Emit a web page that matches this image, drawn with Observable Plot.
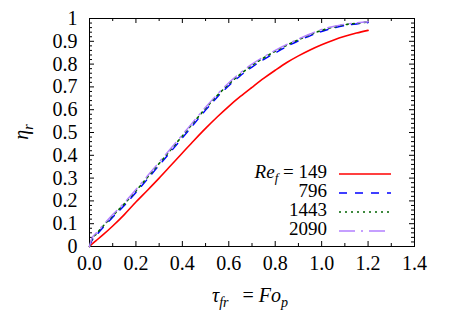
<!DOCTYPE html>
<html>
<head>
<meta charset="utf-8">
<script src="https://cdn.jsdelivr.net/npm/d3@7"></script>
<script src="https://cdn.jsdelivr.net/npm/@observablehq/plot@0.6"></script>
<style>
  html, body { margin: 0; padding: 0; background: #fff; }
  #chart svg { display: block; }
</style>
</head>
<body>
<div id="chart"></div>
<script>
// Fourier number (x) values
const fo = [0, 0.01, 0.03, 0.06, 0.1, 0.15, 0.2, 0.25, 0.3, 0.35, 0.4, 0.45, 0.5, 0.55, 0.6, 0.65, 0.7, 0.75, 0.8, 0.85, 0.9, 0.95, 1.0, 1.05, 1.1, 1.15, 1.2];
// efficiency eta_r per Re_f
const re149  = [0, 0.01, 0.027, 0.053, 0.09, 0.14, 0.195, 0.247, 0.30, 0.355, 0.41, 0.465, 0.518, 0.568, 0.615, 0.658, 0.698, 0.737, 0.773, 0.807, 0.836, 0.862, 0.885, 0.905, 0.922, 0.936, 0.948];
const re796  = [0, 0.025, 0.05, 0.085, 0.128, 0.18, 0.237, 0.296, 0.356, 0.416, 0.476, 0.537, 0.598, 0.655, 0.705, 0.749, 0.787, 0.82, 0.849, 0.877, 0.902, 0.924, 0.943, 0.958, 0.969, 0.976, 0.982];
const re1443 = [0, 0.03, 0.056, 0.091, 0.135, 0.187, 0.244, 0.304, 0.364, 0.424, 0.485, 0.546, 0.606, 0.662, 0.712, 0.756, 0.794, 0.827, 0.856, 0.883, 0.907, 0.929, 0.948, 0.962, 0.973, 0.979, 0.985];
const re2090 = [0, 0.035, 0.06, 0.095, 0.14, 0.192, 0.25, 0.31, 0.37, 0.43, 0.49, 0.551, 0.611, 0.667, 0.718, 0.762, 0.80, 0.832, 0.86, 0.886, 0.91, 0.932, 0.952, 0.965, 0.975, 0.981, 0.986];

const seriesNames = ["149", "796", "1443", "2090"];
const seriesValues = [re149, re796, re1443, re2090];
const seriesColors = ["#ff0000", "#0000ff", "#006400", "#b380ff"];
const seriesDash = [null, "8,8", "2,4", "16,6,2,6"];
const seriesWidth = [1.6, 1.4, 1.6, 1.4];

const xTicks = [0, 0.2, 0.4, 0.6, 0.8, 1.0, 1.2, 1.4];
const xMinor = [0.1, 0.3, 0.5, 0.7, 0.9, 1.1, 1.3];
const yTicks = [0, 0.1, 0.2, 0.3, 0.4, 0.5, 0.6, 0.7, 0.8, 0.9, 1];
const yMinor = d3.range(0, 50).map(i => +(i * 0.02).toFixed(2)).filter(v => Math.abs(v * 10 - Math.round(v * 10)) > 1e-6);

// pick an installed serif font by measuring
function available(name) {
  const c = document.createElement("canvas").getContext("2d");
  const s = "0.123456789 Reη mmmWWWiii";
  return ["monospace", "sans-serif"].some(fb => {
    c.font = `40px ${fb}`; const a = c.measureText(s).width;
    c.font = `40px "${name}", ${fb}`; const b = c.measureText(s).width;
    return Math.abs(a - b) > 0.5;
  });
}
const serifCandidates = ["Liberation Serif", "Tinos", "Times New Roman", "Times", "Nimbus Roman", "Noto Serif", "FreeSerif", "DejaVu Serif"];
const chosen = serifCandidates.find(available) || "serif";
const font = `"${chosen}", serif`;

const W = 458, H = 313;
const mL = 89, mR = 44, mT = 18, mB = 67;
const pw = W - mL - mR, ph = H - mT - mB;

const rows = [];
seriesValues.forEach((vals, s) => vals.forEach((v, i) => rows.push({s, x: fo[i], y: v})));

const marks = [
  Plot.frame({stroke: "black", strokeWidth: 1}),
  Plot.tickX(xTicks, {x: d => d, insetTop: ph - 5, stroke: "black"}),
  Plot.tickX(xTicks, {x: d => d, insetBottom: ph - 5, stroke: "black"}),
  Plot.tickX(xMinor, {x: d => d, insetTop: ph - 3, stroke: "black"}),
  Plot.tickX(xMinor, {x: d => d, insetBottom: ph - 3, stroke: "black"}),
  Plot.tickY(yTicks, {y: d => d, insetRight: pw - 5, stroke: "black"}),
  Plot.tickY(yTicks, {y: d => d, insetLeft: pw - 5, stroke: "black"}),
  Plot.tickY(yMinor, {y: d => d, insetRight: pw - 3, stroke: "black"}),
  Plot.tickY(yMinor, {y: d => d, insetLeft: pw - 3, stroke: "black"}),
  Plot.axisX({ticks: xTicks, tickSize: 0, tickPadding: 9, tickFormat: d => d.toFixed(1), fontSize: 20, fontFamily: font, label: null}),
  Plot.axisY({ticks: yTicks, tickSize: 0, tickPadding: 12, tickFormat: d => String(+d.toFixed(1)), fontSize: 20, fontFamily: font, label: null})
];
for (let s = 0; s < seriesValues.length; s++) {
  marks.push(Plot.line(rows.filter(r => r.s === s), {
    x: "x", y: "y", stroke: seriesColors[s], strokeWidth: seriesWidth[s],
    strokeDasharray: seriesDash[s], curve: "monotone-x"
  }));
}

const plot = Plot.plot({
  width: W, height: H,
  marginLeft: mL, marginRight: mR, marginTop: mT, marginBottom: mB,
  x: {domain: [0, 1.4]},
  y: {domain: [0, 1]},
  style: {fontFamily: font, fontSize: "20px", color: "#000", background: "#fff", overflow: "visible"},
  marks
});
document.getElementById("chart").appendChild(plot);

const svg = d3.select(plot);
svg.selectAll("text").attr("font-family", font).style("font-family", font);
const g = svg.append("g").attr("font-family", font).style("font-family", font).attr("fill", "#000");

// x-axis title
const xt = g.append("text").attr("x", 250).attr("y", 302).attr("text-anchor", "middle").attr("font-size", 20);
xt.append("tspan").attr("font-style", "italic").text("τ");
xt.append("tspan").attr("font-style", "italic").attr("font-size", 14).attr("dy", 5).text("fr");
xt.append("tspan").attr("dy", -5).text("\u2002\u2009= ");
xt.append("tspan").attr("font-style", "italic").text("Fo");
xt.append("tspan").attr("font-style", "italic").attr("font-size", 14).attr("dy", 5).text("p");

// y-axis title
const yt = g.append("text").attr("transform", "translate(28,132) rotate(-90)").attr("text-anchor", "middle").attr("font-size", 20);
yt.append("tspan").attr("font-style", "italic").text("η");
yt.append("tspan").attr("font-style", "italic").attr("font-size", 14).attr("dy", 5).text("r");

// legend
const lx = 327, sx1 = 339, sx2 = 391;
const ly = [178, 197, 216, 235];
seriesNames.forEach((name, s) => {
  const t = g.append("text").attr("x", lx).attr("y", ly[s]).attr("text-anchor", "end").attr("font-size", 19);
  if (s === 0) {
    t.append("tspan").attr("font-style", "italic").text("Re");
    t.append("tspan").attr("font-style", "italic").attr("font-size", 13).attr("dy", 4).text("f");
    t.append("tspan").attr("dy", -4).text(" = " + name);
  } else {
    t.text(name);
  }
  g.append("line").attr("x1", sx1).attr("x2", sx2).attr("y1", ly[s] - 4).attr("y2", ly[s] - 4)
    .attr("stroke", seriesColors[s]).attr("stroke-width", seriesWidth[s])
    .attr("stroke-dasharray", seriesDash[s]);
});
</script>
</body>
</html>
